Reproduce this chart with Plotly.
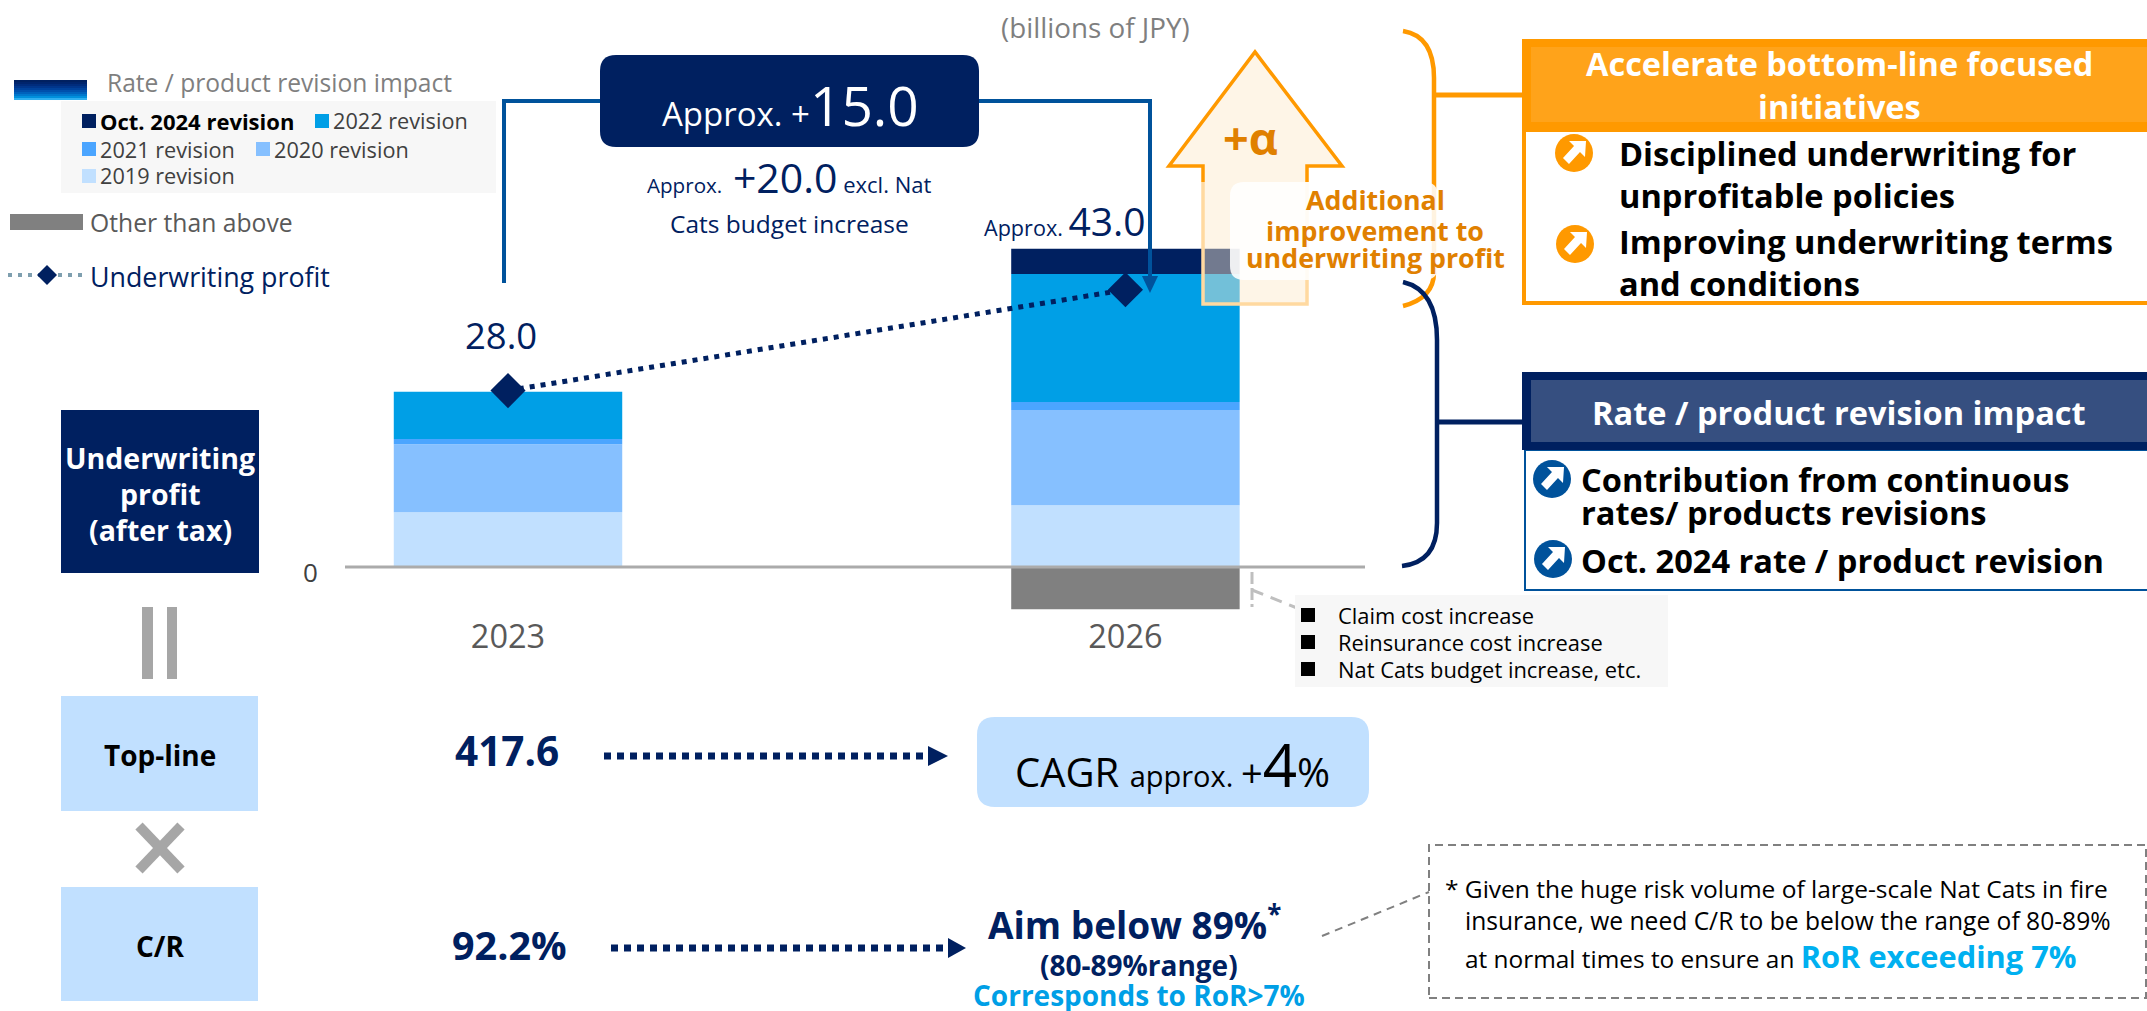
import plotly.graph_objects as go

W, H = 2147, 1011
FONT = "Open Sans"
NAVY = "#002060"
ORANGE = "#FF9900"
AMBER = "#E08000"
BLUE = "#00529B"
SKY = "#009FE6"
PALE = "#C1E0FF"
GREY = "#808080"

# ---- chart data (billions of JPY) ----
years = ["2023", "2026"]
rev_2019 = [8.7, 9.8]
rev_2020 = [10.8, 15.1]
rev_2021 = [0.8, 1.3]
rev_2022 = [7.5, 20.3]
rev_oct2024 = [0, 4.0]
other = [0, -6.7]
profit_points = [28.0, 44.0]
series_names = ["2019 revision", "2020 revision", "2021 revision", "2022 revision", "Oct. 2024 revision", "Other than above"]
series_colors = [PALE, "#86C0FF", "#4BA5FF", SKY, NAVY, GREY]


def X(p):
    return p / W


def Y(p):
    return 1 - p / H


shapes = []
annotations = []


def rect(x0, y0, x1, y1, fill, line=None, lw=0, dash=None):
    s = dict(type="rect", xref="paper", yref="paper", x0=X(x0), x1=X(x1), y0=Y(y1), y1=Y(y0),
             fillcolor=fill, line=dict(width=lw, color=line or "rgba(0,0,0,0)"))
    if dash:
        s["line"]["dash"] = dash
    shapes.append(s)


def seg(x0, y0, x1, y1, color, lw, dash=None):
    l = dict(width=lw, color=color)
    if dash:
        l["dash"] = dash
    shapes.append(dict(type="line", xref="paper", yref="paper", x0=X(x0), x1=X(x1), y0=Y(y0), y1=Y(y1), line=l))


def path(cmds, fill=None, line=None, lw=0):
    parts = []
    for c in cmds:
        if c[0] == "Z":
            parts.append("Z")
        else:
            nums = c[1:]
            pts = [f"{X(nums[i]):.5f},{Y(nums[i+1]):.5f}" for i in range(0, len(nums), 2)]
            parts.append(c[0] + " ".join(pts))
    shapes.append(dict(type="path", xref="paper", yref="paper", path=" ".join(parts),
                       fillcolor=fill or "rgba(0,0,0,0)",
                       line=dict(width=lw, color=line or "rgba(0,0,0,0)")))


def round_rect(x0, y0, x1, y1, r, fill):
    path([("M", x0 + r, y0), ("L", x1 - r, y0), ("Q", x1, y0, x1, y0 + r), ("L", x1, y1 - r),
          ("Q", x1, y1, x1 - r, y1), ("L", x0 + r, y1), ("Q", x0, y1, x0, y1 - r), ("L", x0, y0 + r),
          ("Q", x0, y0, x0 + r, y0), ("Z",)], fill=fill)


def text(x, y, s, size, color="#000000", bold=False, anchor="left"):
    if bold:
        s = f"<b>{s}</b>"
    annotations.append(dict(xref="paper", yref="paper", x=X(x), y=Y(y), text=s, showarrow=False,
                            xanchor=anchor, yanchor="middle", align=anchor, borderpad=0, borderwidth=0,
                            font=dict(family=FONT, size=size, color=color)))


def span(s, size, color=None):
    c = f"color:{color};" if color else ""
    return f'<span style="font-size:{size}px;{c}">{s}</span>'


def icon(cx, cy, color):
    shapes.append(dict(type="circle", xref="paper", yref="paper", x0=X(cx - 19), x1=X(cx + 19),
                       y0=Y(cy + 19), y1=Y(cy - 19), fillcolor=color, line=dict(width=0)))
    pts = [(12, -12), (11, 4), (6, -1), (-5, 11), (-11, 5), (0, -7), (-5, -12)]
    path([("M", cx + pts[0][0], cy + pts[0][1])] + [("L", cx + a, cy + b) for a, b in pts[1:]] + [("Z",)], fill="#FFFFFF")


# ---- legend block ----
grad = ["#002060", "#00246C", "#002C7C", "#00368C", "#00429C", "#0050AC", "#0062BC", "#0078CC", "#0090DC", "#30B0F0"]
for i, c in enumerate(grad):
    rect(14, 80 + 2 * i, 87, 82 + 2 * i, c)
text(107, 83, "Rate / product revision impact", 24.6, "#7F7F7F")
rect(61, 101, 496, 193, "#F7F7F7")
legend_rows = [(82, 121, series_colors[4], series_names[4], True), (315, 121, series_colors[3], series_names[3], False),
               (82, 149, series_colors[2], series_names[2], False), (256, 149, series_colors[1], series_names[1], False),
               (82, 176, series_colors[0], series_names[0], False)]
for sx, sy, c, name, b in legend_rows:
    rect(sx, sy - 7, sx + 14, sy + 7, c)
    text(sx + 18, sy, name, 21.7 if not b else 22, "#000000" if b else "#404040", b)
rect(10, 214, 83, 230, GREY)
text(90, 222, series_names[5], 24.7, "#595959")
seg(8, 275, 83, 275, "#7F9FAF", 4, "4px,6px")
path([("M", 47, 265), ("L", 57, 275), ("L", 47, 285), ("L", 37, 275), ("Z",)], fill=NAVY)
text(90, 276, "Underwriting profit", 26.8, NAVY)

# ---- unit ----
text(1095, 27, "(billions of JPY)", 27.8, "#7F7F7F", anchor="center")

# ---- connector + approx box ----
path([("M", 504, 283), ("L", 504, 101), ("L", 1150, 101), ("L", 1150, 280)], line=BLUE, lw=4)
path([("M", 1142, 276), ("L", 1158, 276), ("L", 1150, 293), ("Z",)], fill=BLUE)
round_rect(600, 55, 979, 147, 16, NAVY)
text(790, 104, span("Approx. +", 33) + span("15.0", 55), 33, "#FFFFFF", anchor="center")
text(789, 177, span("Approx.  ", 20.6) + span("+20.0", 41) + span(" excl. Nat", 22), 22, NAVY, anchor="center")
text(789, 223, "Cats budget increase", 24.5, NAVY, anchor="center")
text(501, 335, "28.0", 36.5, NAVY, anchor="center")
text(1065, 220, span("Approx. ", 21.6) + span("43.0", 39), 21.6, NAVY, anchor="center")

# ---- +alpha arrow ----
path([("M", 1255, 52), ("L", 1342, 166), ("L", 1307, 166), ("L", 1307, 304), ("L", 1203, 304), ("L", 1203, 166),
      ("L", 1169, 166), ("Z",)], fill="rgba(253,233,202,0.45)")
path([("M", 1203, 182), ("L", 1203, 166), ("L", 1169, 166), ("L", 1255, 52), ("L", 1342, 166), ("L", 1307, 166), ("L", 1307, 182)],
     line=ORANGE, lw=3.5)
path([("M", 1203, 182), ("L", 1203, 304), ("L", 1307, 304), ("L", 1307, 182)], line="#FFD9A0", lw=3.5)
text(1250, 137, "+α", 45, AMBER, True, "center")

# ---- brackets ----
path([("M", 1403, 31), ("Q", 1434, 36, 1434, 78), ("L", 1434, 272), ("Q", 1434, 298, 1403, 306)], line=ORANGE, lw=4.5)
seg(1434, 95, 1524, 95, ORANGE, 5)
path([("M", 1403, 282), ("Q", 1437, 290, 1437, 340), ("L", 1437, 523), ("Q", 1437, 562, 1402, 566)], line=NAVY, lw=4.5)
seg(1437, 422, 1524, 422, NAVY, 5)
round_rect(1230, 182, 1438, 280, 14, "rgba(255,255,255,0.88)")
text(1375, 200, "Additional", 26.8, AMBER, True, "center")
text(1375, 230, "improvement to", 26.8, AMBER, True, "center")
text(1375, 258, "underwriting profit", 26.8, AMBER, True, "center")

# ---- orange panel ----
rect(1524, 130, 2160, 303, "#FFFFFF", ORANGE, 4)
rect(1522, 39, 2147, 130, ORANGE)
rect(1531, 47, 2147, 122, "#FFA31A")
text(1839, 63, "Accelerate bottom-line focused", 32.5, "#FFFFFF", True, "center")
text(1839, 106, "initiatives", 32.5, "#FFFFFF", True, "center")
icon(1574, 153, ORANGE)
icon(1575, 244, ORANGE)
text(1619, 153, "Disciplined underwriting for", 32.6, "#000000", True)
text(1619, 195, "unprofitable policies", 32.6, "#000000", True)
text(1619, 242, "Improving underwriting terms", 32.6, "#000000", True)
text(1619, 283, "and conditions", 32.6, "#000000", True)

# ---- navy panel ----
rect(1525, 450, 2160, 590, "#FFFFFF", BLUE, 2)
rect(1522, 372, 2147, 450, NAVY)
rect(1531, 380, 2147, 442, "#364F80")
text(1839, 413, "Rate / product revision impact", 32.6, "#FFFFFF", True, "center")
icon(1552, 479, BLUE)
icon(1553, 559, BLUE)
text(1581, 480, "Contribution from continuous", 32.6, "#000000", True)
text(1581, 512, "rates/ products revisions", 32.6, "#000000", True)
text(1581, 560, "Oct. 2024 rate / product revision", 32.6, "#000000", True)

# ---- other-than-above note ----
seg(1252, 572, 1252, 607, "#BFBFBF", 3, "12px,4px")
seg(1252, 590, 1297, 608, "#BFBFBF", 3, "12px,8px")
rect(1295, 595, 1668, 687, "#F7F7F7")
for yy, s in zip([615, 642, 669], ["Claim cost increase", "Reinsurance cost increase", "Nat Cats budget increase, etc."]):
    rect(1301, yy - 7, 1315, yy + 7, "#000000")
    text(1338, yy, s, 21.9, "#000000")

# ---- left column ----
rect(61, 410, 259, 573, NAVY)
text(160, 458, "Underwriting", 28.5, "#FFFFFF", True, "center")
text(160, 494, "profit", 28.5, "#FFFFFF", True, "center")
text(160, 530, "(after tax)", 28.5, "#FFFFFF", True, "center")
rect(142, 607, 153, 679, "#A6A6A6")
rect(167, 607, 177, 679, "#A6A6A6")
rect(61, 696, 258, 811, PALE)
text(160, 755, "Top-line", 28, "#000000", True, "center")
seg(139, 826, 181, 870, "#A6A6A6", 10)
seg(181, 826, 139, 870, "#A6A6A6", 10)
rect(61, 887, 258, 1001, PALE)
text(160, 946, "C/R", 28, "#000000", True, "center")

# ---- lower row ----
text(507, 750, "417.6", 40.5, NAVY, True, "center")
seg(604, 756, 928, 756, NAVY, 7, "7px,6px")
path([("M", 928, 746), ("L", 948, 756), ("L", 928, 766), ("Z",)], fill=NAVY)
round_rect(977, 717, 1369, 807, 18, PALE)
text(1172, 764, span("CAGR ", 40) + span("approx. ", 29) + span("+", 38) + span("4", 60) + span("%", 40), 33, "#000000", anchor="center")
text(509, 945, "92.2%", 39.5, NAVY, True, "center")
seg(611, 948, 948, 948, NAVY, 7, "7px,6px")
path([("M", 948, 938), ("L", 966, 948), ("L", 948, 958), ("Z",)], fill=NAVY)
text(1134, 922, "Aim below 89%<sup>*</sup>", 37, NAVY, True, "center")
text(1139, 965, "(80-89%range)", 28, NAVY, True, "center")
text(1139, 995, "Corresponds to RoR&gt;7%", 28, SKY, True, "center")
seg(1322, 936, 1429, 892, GREY, 2, "8px,6px")
rect(1429, 845, 2146, 998, "rgba(0,0,0,0)", GREY, 2, "8px,5px")
text(1445, 888, "* Given the huge risk volume of large-scale Nat Cats in fire", 24.5, "#000000")
text(1465, 920, "insurance, we need C/R to be below the range of 80-89%", 24.6, "#000000")
text(1465, 956, "at normal times to ensure an " + span("<b>RoR exceeding 7%</b>", 30.8, "#00B0F0"), 24.4, "#000000")

# ---- axis zero + baseline (drawn with the data scale) ----
shapes.append(dict(type="line", xref="paper", yref="y", x0=X(345), x1=X(1365), y0=0, y1=0,
                   line=dict(color="#ABABAB", width=3)))
annotations.append(dict(xref="paper", yref="y", x=X(310), y=0, yshift=-5, text="0", showarrow=False,
                        xanchor="center", yanchor="middle", font=dict(family=FONT, size=26, color="#404040")))

fig = go.Figure()
for name, vals, color in zip(series_names, [rev_2019, rev_2020, rev_2021, rev_2022, rev_oct2024, other], series_colors):
    fig.add_trace(go.Bar(name=name, x=years, y=vals, marker=dict(color=color, line=dict(width=0)), showlegend=False))
fig.add_trace(go.Scatter(name="Underwriting profit", x=years, y=profit_points, mode="lines+markers", showlegend=False,
                         line=dict(color=NAVY, width=5, dash="5px,6px"),
                         marker=dict(symbol="diamond", size=27, color=NAVY)))

fig.update_layout(
    width=W, height=H, margin=dict(l=0, r=0, t=0, b=0),
    paper_bgcolor="#FFFFFF", plot_bgcolor="#FFFFFF",
    barmode="relative", bargap=0.63, showlegend=False,
    font=dict(family=FONT),
    shapes=shapes, annotations=annotations,
    xaxis=dict(domain=[X(345), X(1365)], type="category", range=[-0.264, 1.388], showgrid=False, showline=False,
               zeroline=False, ticks="", tickfont=dict(family=FONT, size=32.5, color="#595959"), fixedrange=True),
    yaxis=dict(domain=[Y(614), Y(200)], range=[-7.46, 58.25], showgrid=False, zeroline=False, showline=False,
               showticklabels=False, ticks="", fixedrange=True),
)
fig.write_html("out.html", config={"displayModeBar": False},
               post_script="document.body.style.margin='0';document.body.style.overflow='hidden';")
